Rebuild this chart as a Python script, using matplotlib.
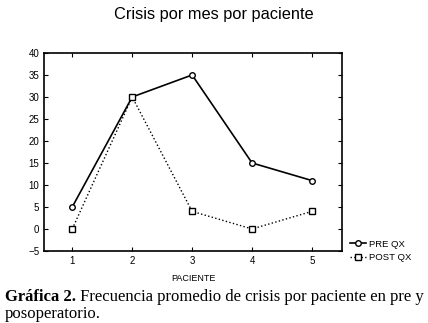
import numpy as np
import matplotlib.pyplot as plt

# data
pacientes = [1, 2, 3, 4, 5]
pre_qx = [5, 30, 35, 15, 11]
post_qx = [0, 30, 4, 0, 4]
y_ticks = [-5, 0, 5, 10, 15, 20, 25, 30, 35, 40]

plt.rcParams['font.family'] = ['Liberation Sans', 'DejaVu Sans']

fig = plt.figure(figsize=(4.28, 3.23), dpi=100)
ax = fig.add_axes([0.103, 0.223, 0.696, 0.613])

ax.plot(pacientes, pre_qx, color='black', linewidth=1.2, marker='o',
        markersize=4, markerfacecolor='white', markeredgewidth=1,
        label='PRE QX')
ax.plot(pacientes, post_qx, color='black', linewidth=1.0, linestyle=':',
        marker='s', markersize=4, markerfacecolor='white', markeredgewidth=1,
        label='POST QX')

ax.set_xlim(0.53, 5.5)
ax.set_ylim(-5, 40)
ax.set_xticks(pacientes)
ax.set_yticks(y_ticks)
ax.tick_params(direction='in', labelsize=7, length=3, width=0.8,
               top=True, right=True)
for s in ax.spines.values():
    s.set_linewidth(1.2)

ax.set_xlabel('PACIENTE', fontsize=6.5, labelpad=6)
fig.text(0.5, 0.955, 'Crisis por mes por paciente', ha='center',
         va='center', fontsize=11.8)

ax.legend(loc='lower left', bbox_to_anchor=(1.0, -0.1), frameon=False,
          fontsize=6.8, handlelength=1.6, handletextpad=0.4,
          labelspacing=0.5)

# caption under the figure
bold = fig.text(0.012, 0.068, 'Gráfica 2.', fontsize=12,
                family='Liberation Serif', fontweight='bold', va='baseline')
ax.annotate(' Frecuencia promedio de crisis por paciente en pre y',
            xy=(1, 0), xycoords=bold, va='bottom', ha='left',
            fontsize=12, family='Liberation Serif',
            annotation_clip=False)
fig.text(0.012, 0.016, 'posoperatorio.', fontsize=12,
         family='Liberation Serif', va='baseline')

fig.savefig('out.png', dpi=100)
